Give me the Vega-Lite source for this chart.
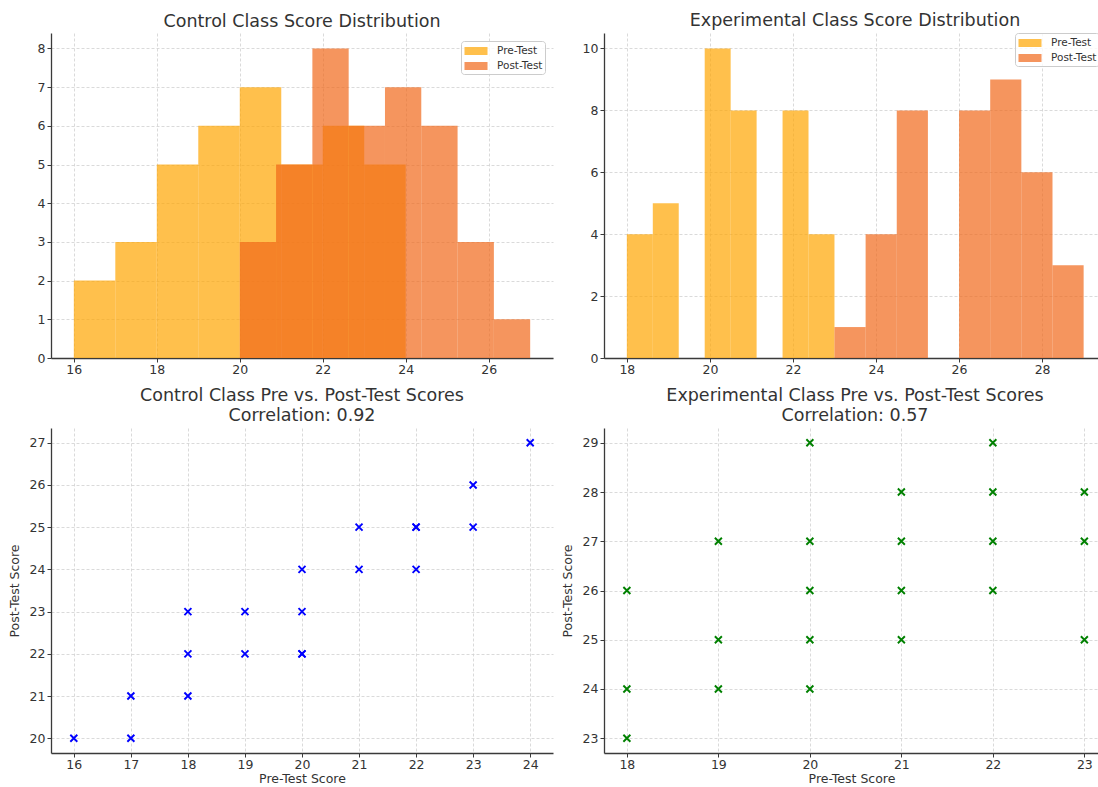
{
  "$schema": "https://vega.github.io/schema/vega-lite/v6.json",
  "background": "white",
  "padding": {"left": 8, "top": 12, "right": 0, "bottom": 0},
  "columns": 2,
  "bounds": "flush",
  "spacing": {"column": 51, "row": 70},
  "resolve": {"scale": {"color": "independent"}, "legend": {"color": "independent"}},
  "datasets": {
    "hist": [
      {"cls": "Control", "test": "Pre-Test", "bin_start": 16, "bin_end": 17, "count": 2},
      {"cls": "Control", "test": "Pre-Test", "bin_start": 17, "bin_end": 18, "count": 3},
      {"cls": "Control", "test": "Pre-Test", "bin_start": 18, "bin_end": 19, "count": 5},
      {"cls": "Control", "test": "Pre-Test", "bin_start": 19, "bin_end": 20, "count": 6},
      {"cls": "Control", "test": "Pre-Test", "bin_start": 20, "bin_end": 21, "count": 7},
      {"cls": "Control", "test": "Pre-Test", "bin_start": 21, "bin_end": 22, "count": 5},
      {"cls": "Control", "test": "Pre-Test", "bin_start": 22, "bin_end": 23, "count": 6},
      {"cls": "Control", "test": "Pre-Test", "bin_start": 23, "bin_end": 24, "count": 5},
      {"cls": "Control", "test": "Post-Test", "bin_start": 20, "bin_end": 20.875, "count": 3},
      {"cls": "Control", "test": "Post-Test", "bin_start": 20.875, "bin_end": 21.75, "count": 5},
      {"cls": "Control", "test": "Post-Test", "bin_start": 21.75, "bin_end": 22.625, "count": 8},
      {"cls": "Control", "test": "Post-Test", "bin_start": 22.625, "bin_end": 23.5, "count": 6},
      {"cls": "Control", "test": "Post-Test", "bin_start": 23.5, "bin_end": 24.375, "count": 7},
      {"cls": "Control", "test": "Post-Test", "bin_start": 24.375, "bin_end": 25.25, "count": 6},
      {"cls": "Control", "test": "Post-Test", "bin_start": 25.25, "bin_end": 26.125, "count": 3},
      {"cls": "Control", "test": "Post-Test", "bin_start": 26.125, "bin_end": 27, "count": 1},
      {"cls": "Experimental", "test": "Pre-Test", "bin_start": 18, "bin_end": 18.625, "count": 4},
      {"cls": "Experimental", "test": "Pre-Test", "bin_start": 18.625, "bin_end": 19.25, "count": 5},
      {"cls": "Experimental", "test": "Pre-Test", "bin_start": 19.875, "bin_end": 20.5, "count": 10},
      {"cls": "Experimental", "test": "Pre-Test", "bin_start": 20.5, "bin_end": 21.125, "count": 8},
      {"cls": "Experimental", "test": "Pre-Test", "bin_start": 21.75, "bin_end": 22.375, "count": 8},
      {"cls": "Experimental", "test": "Pre-Test", "bin_start": 22.375, "bin_end": 23, "count": 4},
      {"cls": "Experimental", "test": "Post-Test", "bin_start": 23, "bin_end": 23.75, "count": 1},
      {"cls": "Experimental", "test": "Post-Test", "bin_start": 23.75, "bin_end": 24.5, "count": 4},
      {"cls": "Experimental", "test": "Post-Test", "bin_start": 24.5, "bin_end": 25.25, "count": 8},
      {"cls": "Experimental", "test": "Post-Test", "bin_start": 26, "bin_end": 26.75, "count": 8},
      {"cls": "Experimental", "test": "Post-Test", "bin_start": 26.75, "bin_end": 27.5, "count": 9},
      {"cls": "Experimental", "test": "Post-Test", "bin_start": 27.5, "bin_end": 28.25, "count": 6},
      {"cls": "Experimental", "test": "Post-Test", "bin_start": 28.25, "bin_end": 29, "count": 3}
    ],
    "scores": [
      {"cls": "Control", "pre": 16, "post": 20},
      {"cls": "Control", "pre": 17, "post": 20},
      {"cls": "Control", "pre": 17, "post": 21},
      {"cls": "Control", "pre": 18, "post": 21},
      {"cls": "Control", "pre": 18, "post": 22},
      {"cls": "Control", "pre": 18, "post": 23},
      {"cls": "Control", "pre": 19, "post": 22},
      {"cls": "Control", "pre": 19, "post": 23},
      {"cls": "Control", "pre": 20, "post": 22},
      {"cls": "Control", "pre": 20, "post": 22},
      {"cls": "Control", "pre": 20, "post": 23},
      {"cls": "Control", "pre": 20, "post": 24},
      {"cls": "Control", "pre": 21, "post": 24},
      {"cls": "Control", "pre": 21, "post": 25},
      {"cls": "Control", "pre": 22, "post": 24},
      {"cls": "Control", "pre": 22, "post": 25},
      {"cls": "Control", "pre": 22, "post": 25},
      {"cls": "Control", "pre": 23, "post": 25},
      {"cls": "Control", "pre": 23, "post": 26},
      {"cls": "Control", "pre": 24, "post": 27},
      {"cls": "Experimental", "pre": 18, "post": 23},
      {"cls": "Experimental", "pre": 18, "post": 24},
      {"cls": "Experimental", "pre": 18, "post": 26},
      {"cls": "Experimental", "pre": 19, "post": 24},
      {"cls": "Experimental", "pre": 19, "post": 25},
      {"cls": "Experimental", "pre": 19, "post": 27},
      {"cls": "Experimental", "pre": 20, "post": 24},
      {"cls": "Experimental", "pre": 20, "post": 25},
      {"cls": "Experimental", "pre": 20, "post": 26},
      {"cls": "Experimental", "pre": 20, "post": 27},
      {"cls": "Experimental", "pre": 20, "post": 29},
      {"cls": "Experimental", "pre": 21, "post": 25},
      {"cls": "Experimental", "pre": 21, "post": 26},
      {"cls": "Experimental", "pre": 21, "post": 27},
      {"cls": "Experimental", "pre": 21, "post": 28},
      {"cls": "Experimental", "pre": 22, "post": 26},
      {"cls": "Experimental", "pre": 22, "post": 27},
      {"cls": "Experimental", "pre": 22, "post": 28},
      {"cls": "Experimental", "pre": 22, "post": 29},
      {"cls": "Experimental", "pre": 23, "post": 25},
      {"cls": "Experimental", "pre": 23, "post": 27},
      {"cls": "Experimental", "pre": 23, "post": 28}
    ]
  },
  "concat": [
    {
      "width": 502,
      "height": 325,
      "title": "Control Class Score Distribution",
      "data": {"name": "hist"},
      "transform": [{"filter": "datum.cls === 'Control'"}],
      "mark": {"type": "bar", "opacity": 0.7},
      "encoding": {
        "x": {"field": "bin_start", "type": "quantitative", "scale": {"domain": [15.45, 27.55], "nice": false, "zero": false}, "axis": {"title": null, "values": [16, 18, 20, 22, 24, 26]}},
        "x2": {"field": "bin_end"},
        "y": {"field": "count", "type": "quantitative", "stack": null, "scale": {"domain": [0, 8.4], "nice": false}, "axis": {"title": null, "values": [0, 1, 2, 3, 4, 5, 6, 7, 8]}},
        "y2": {"datum": 0},
        "color": {"field": "test", "type": "nominal", "scale": {"domain": ["Pre-Test", "Post-Test"], "range": ["#FFA500", "#F1681A"]}, "legend": {"orient": "top-right", "offset": 8, "title": null, "symbolType": "M-1.44,-0.5H1.44V0.5H-1.44Z"}}
      }
    },
    {
      "width": 495,
      "height": 325,
      "title": {"text": "Experimental Class Score Distribution", "dx": 3.5},
      "data": {"name": "hist"},
      "transform": [{"filter": "datum.cls === 'Experimental'"}],
      "mark": {"type": "bar", "opacity": 0.7},
      "encoding": {
        "x": {"field": "bin_start", "type": "quantitative", "scale": {"domain": [17.45, 29.37], "nice": false, "zero": false}, "axis": {"title": null, "values": [18, 20, 22, 24, 26, 28]}},
        "x2": {"field": "bin_end"},
        "y": {"field": "count", "type": "quantitative", "stack": null, "scale": {"domain": [0, 10.5], "nice": false}, "axis": {"title": null, "values": [0, 2, 4, 6, 8, 10]}},
        "y2": {"datum": 0},
        "color": {"field": "test", "type": "nominal", "scale": {"domain": ["Pre-Test", "Post-Test"], "range": ["#FFA500", "#F1681A"]}, "legend": {"orient": "top-right", "offset": 0, "title": null, "symbolType": "M-1.44,-0.5H1.44V0.5H-1.44Z"}}
      }
    },
    {
      "width": 502,
      "height": 325,
      "title": {"text": ["Control Class Pre vs. Post-Test Scores", "Correlation: 0.92"], "offset": 4},
      "data": {"name": "scores"},
      "transform": [{"filter": "datum.cls === 'Control'"}],
      "mark": {"type": "point", "shape": "M-1,-1L1,1M-1,1L1,-1", "filled": false, "color": "#0000FF", "strokeWidth": 1.9, "size": 49, "opacity": 1},
      "encoding": {
        "x": {"field": "pre", "type": "quantitative", "scale": {"domain": [15.6, 24.4], "nice": false, "zero": false}, "axis": {"title": "Pre-Test Score", "values": [16, 17, 18, 19, 20, 21, 22, 23, 24], "zindex": 0}},
        "y": {"field": "post", "type": "quantitative", "scale": {"domain": [19.65, 27.35], "nice": false, "zero": false}, "axis": {"title": "Post-Test Score", "values": [20, 21, 22, 23, 24, 25, 26, 27], "zindex": 0}}
      }
    },
    {
      "width": 495,
      "height": 325,
      "title": {"text": ["Experimental Class Pre vs. Post-Test Scores", "Correlation: 0.57"], "offset": 4, "dx": 3.5},
      "data": {"name": "scores"},
      "transform": [{"filter": "datum.cls === 'Experimental'"}],
      "mark": {"type": "point", "shape": "M-1,-1L1,1M-1,1L1,-1", "filled": false, "color": "#008000", "strokeWidth": 1.9, "size": 49, "opacity": 1},
      "encoding": {
        "x": {"field": "pre", "type": "quantitative", "scale": {"domain": [17.75, 23.16], "nice": false, "zero": false}, "axis": {"title": "Pre-Test Score", "values": [18, 19, 20, 21, 22, 23], "zindex": 0}},
        "y": {"field": "post", "type": "quantitative", "scale": {"domain": [22.7, 29.3], "nice": false, "zero": false}, "axis": {"title": "Post-Test Score", "values": [23, 24, 25, 26, 27, 28, 29], "zindex": 0}}
      }
    }
  ],
  "config": {
    "view": {"stroke": null},
    "font": "DejaVu Sans",
    "axis": {
      "domainColor": "#3a3a3a",
      "domainWidth": 1.3,
      "tickColor": "#3a3a3a",
      "tickSize": 4,
      "labelFont": "DejaVu Sans",
      "labelFontSize": 12.5,
      "labelColor": "#333333",
      "labelPadding": 2,
      "labelFlush": false,
      "titleFont": "DejaVu Sans",
      "titleFontSize": 12.5,
      "titleFontWeight": "normal",
      "titleColor": "#333333",
      "gridColor": "#d0d0d0",
      "gridDash": [3, 2],
      "gridWidth": 0.8,
      "zindex": 1
    },
    "axisX": {"titlePadding": 2, "labelPadding": 1},
    "axisY": {"titlePadding": 8},
    "title": {
      "font": "DejaVu Sans",
      "fontSize": 17.5,
      "fontWeight": "normal",
      "color": "#333333",
      "offset": 3,
      "lineHeight": 20,
      "anchor": "middle",
      "frame": "group"
    },
    "legend": {
      "symbolSize": 256,
      "symbolOpacity": 0.7,
      "symbolStrokeWidth": 0,
      "symbolOffset": 5,
      "labelOffset": 13,
      "labelFont": "DejaVu Sans",
      "labelFontSize": 10.5,
      "labelColor": "#333333",
      "strokeColor": "#cccccc",
      "fillColor": "rgba(255,255,255,0.8)",
      "padding": 2,
      "cornerRadius": 3,
      "rowPadding": 1,
      "zindex": 2
    }
  }
}
